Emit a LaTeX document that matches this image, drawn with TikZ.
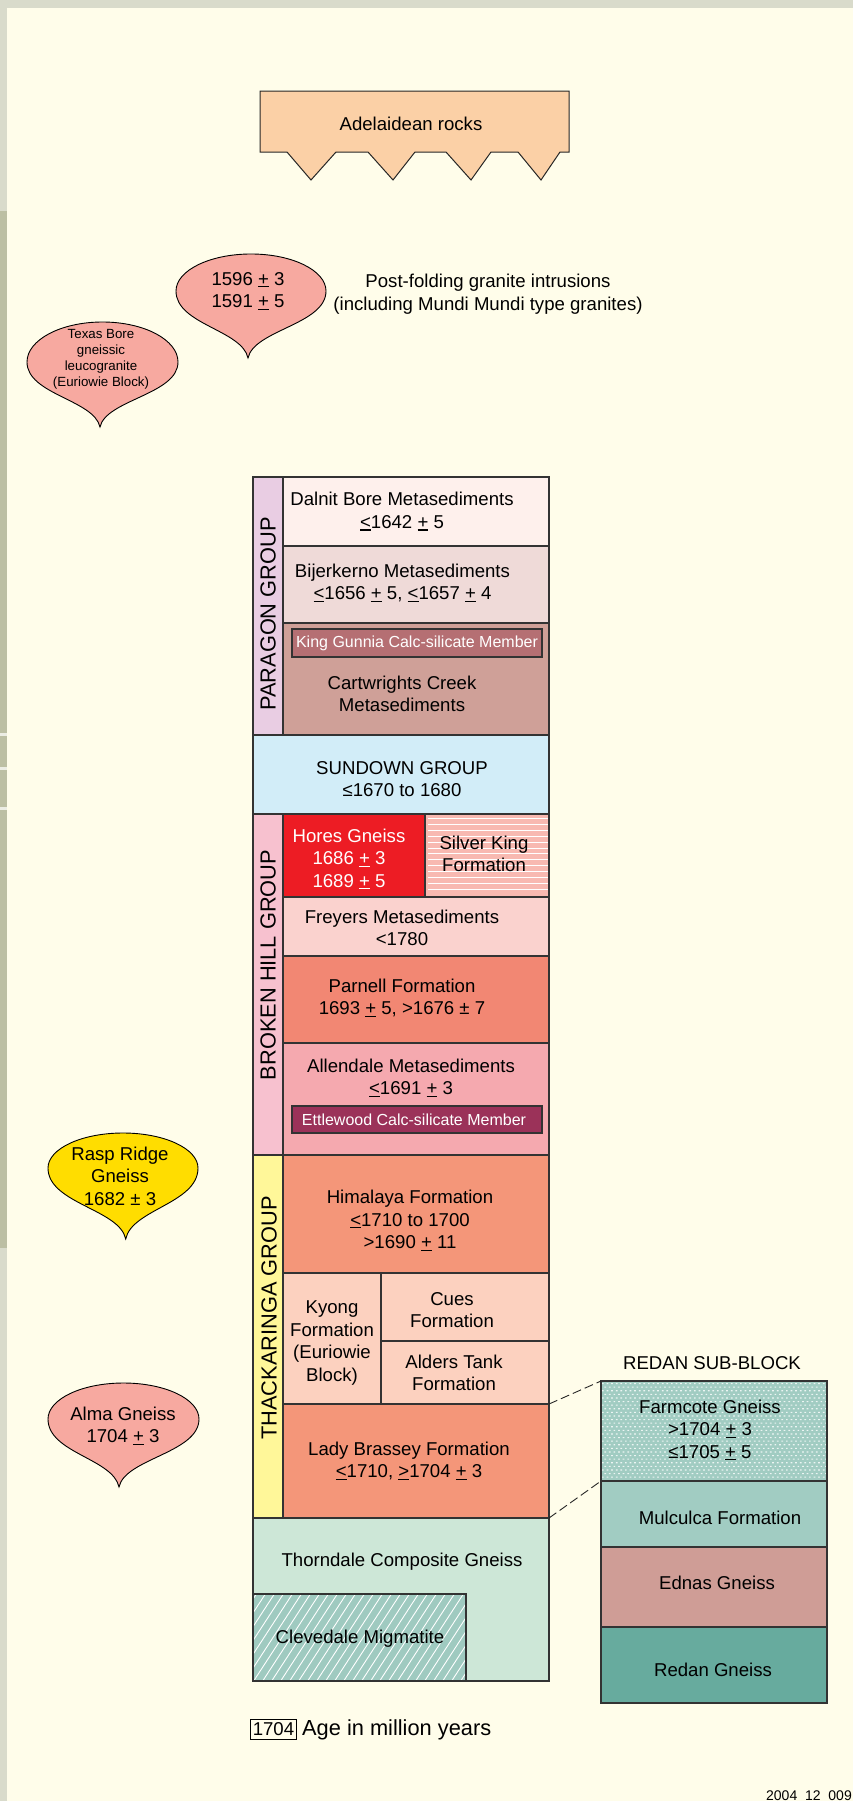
\documentclass[tikz,border=0pt]{standalone}
\usepackage{fontspec}
\setmainfont{Liberation Sans}
\definecolor{bgcol}{HTML}{FFFDEA}
\definecolor{stripL}{HTML}{D9DBCB}
\definecolor{stripD}{HTML}{BCBFA3}
\definecolor{stripW}{HTML}{ECEDE4}
\definecolor{adelc}{HTML}{FBD0A6}
\definecolor{pinkbub}{HTML}{F7A9A0}
\definecolor{yellowbub}{HTML}{FFDD00}
\definecolor{paragonc}{HTML}{E9CDE3}
\definecolor{dalnitc}{HTML}{FEF0EC}
\definecolor{bijerc}{HTML}{EFDAD8}
\definecolor{cartwc}{HTML}{CFA098}
\definecolor{kinggunc}{HTML}{B56F73}
\definecolor{sundownc}{HTML}{D2EDF8}
\definecolor{brokenc}{HTML}{F7C1CF}
\definecolor{horesc}{HTML}{ED1C24}
\definecolor{silverc}{HTML}{F8B9B1}
\definecolor{freyersc}{HTML}{FAD2CE}
\definecolor{parnellc}{HTML}{F28773}
\definecolor{allendc}{HTML}{F5A9AF}
\definecolor{ettlec}{HTML}{9B3259}
\definecolor{thackc}{HTML}{FFF799}
\definecolor{himalc}{HTML}{F49679}
\definecolor{kyongc}{HTML}{FCD1BF}
\definecolor{thornc}{HTML}{CDE7D7}
\definecolor{clevec}{HTML}{9FCAC0}
\definecolor{farmc}{HTML}{A1CCC2}
\definecolor{ednasc}{HTML}{CF9D96}
\definecolor{redanc}{HTML}{67AB9E}
\newcommand\ul[1]{\leavevmode\setbox0=\hbox{#1}\rlap{\rule[-2.2pt]{\wd0}{1.1pt}}\box0\relax}
\newcommand\PM{\ul{+}}
\newcommand\LE{\ul{<}}
\newcommand\GE{\ul{>}}
\newcommand\mybubble[7]{%
 \filldraw[fill=#7, draw=black, line width=0.9pt] ({#1-#3},#2) arc[start angle=180, end angle=360, x radius=#3, y radius=#4] .. controls ({#1+#3},{#2+0.5*(#6-#2)}) and ({#5+0.08*#3},{#6-0.42*(#6-#2)}) .. (#5,#6) .. controls ({#5-0.08*#3},{#6-0.42*(#6-#2)}) and ({#1-#3},{#2+0.5*(#6-#2)}) .. cycle;}
\begin{document}
\begin{tikzpicture}[x=1pt,y=-1pt,
  box/.style={draw=black!80, line width=1.1pt},
  txt/.style={font=\fontsize{18.6}{22.5}\selectfont, align=center, inner sep=0pt, text=black},
  wtxt/.style={font=\fontsize{16}{19}\selectfont, align=center, inner sep=0pt, text=white},
  grp/.style={font=\fontsize{21.8}{24}\selectfont, rotate=90, inner sep=0pt},
  dashline/.style={draw=black!85, line width=0.9pt, dash pattern=on 9pt off 4pt}]
\useasboundingbox (0,0) rectangle (853,1801);
% background
\fill[bgcol] (0,0) rectangle (853,1801);
\fill[stripL] (0,0) rectangle (853,8);
\fill[stripL] (0,0) rectangle (7,1801);
\fill[stripD] (0,211) rectangle (7,1248);
\fill[stripW] (0,733) rectangle (7,735.5);
\fill[stripW] (0,767) rectangle (7,769.5);
\fill[stripW] (0,807) rectangle (7,809.5);
% Adelaidean rocks
\filldraw[fill=adelc, draw=black!85, line width=1pt] (260,91) -- (569,91) -- (569,152) -- (560,152) -- (541,180) -- (518,152) -- (491,152) -- (471,180) -- (446,152) -- (415,152) -- (393,180) -- (368,152) -- (336,152) -- (311,180) -- (287,152) -- (260,152) -- cycle;
\node[txt] (adel) at (411,124) {Adelaidean rocks};
% bubbles
\mybubble{251}{291}{75}{37}{248}{358}{pinkbub}
\node[txt] (b1596) at (248,291) {1596 \PM\ 3\\1591 \PM\ 5};
\mybubble{102.5}{362}{75.5}{40}{100}{427}{pinkbub}
\node[txt, font=\fontsize{13.3}{16}\selectfont] (texas) at (101,359.5) {Texas Bore\\gneissic\\leucogranite\\(Euriowie Block)};
\node[txt] (postfold) at (488,294) {Post-folding granite intrusions\\(including Mundi Mundi type granites)};
\mybubble{123}{1168}{75}{35}{125.7}{1239}{yellowbub}
\node[txt] (rasp) at (120,1176) {Rasp Ridge\\Gneiss\\1682 ± 3};
\mybubble{123.5}{1419}{75.5}{36}{119}{1487}{pinkbub}
\node[txt] (alma) at (123,1426) {Alma Gneiss\\1704 \PM\ 3};
% Paragon group
\path[box, fill=paragonc] (253,477) rectangle (283,735);
\path[box, fill=dalnitc] (283,477) rectangle (549,546);
\path[box, fill=bijerc] (283,546) rectangle (549,623);
\path[box, fill=cartwc] (283,623) rectangle (549,735);
\path[box, fill=kinggunc] (292,629) rectangle (542,657);
\node[grp] (paragon) at (268,614) {PARAGON GROUP};
\node[txt] (dalnit) at (402,511.5) {Dalnit Bore Metasediments\\\LE1642 \PM\ 5};
\node[txt] (bijer) at (402.5,583) {Bijerkerno Metasediments\\\LE1656 \PM\ 5, \LE1657 \PM\ 4};
\node[wtxt] (kinggun) at (417,643) {King Gunnia Calc-silicate Member};
\node[txt] (cartw) at (402,694) {Cartwrights Creek\\Metasediments};
% Sundown
\path[box, fill=sundownc] (253,735) rectangle (549,814);
\node[txt] (sundown) at (402,779) {SUNDOWN GROUP\\≤1670 to 1680};
% Broken Hill group
\path[box, fill=brokenc] (253,814) rectangle (283,1155);
\path[box, fill=horesc] (283,814) rectangle (425,897);
\path[box, fill=silverc] (425,814) rectangle (549,897);
\begin{scope}
\clip (425,814) rectangle (549,897);
\foreach \k in {0,...,12} {\fill[white] (428,{818+5.9*\k}) rectangle (549,{819+5.9*\k});}
\end{scope}
\path[box] (425,814) rectangle (549,897);
\path[box, fill=freyersc] (283,897) rectangle (549,956);
\path[box, fill=parnellc] (283,956) rectangle (549,1043);
\path[box, fill=allendc] (283,1043) rectangle (549,1155);
\path[box, fill=ettlec] (292,1106) rectangle (542,1133);
\node[grp] (broken) at (268,965) {BROKEN HILL GROUP};
\node[txt, text=white] (hores) at (349,859) {Hores Gneiss\\1686 \PM\ 3\\1689 \PM\ 5};
\node[txt] (silver) at (484,854) {Silver King\\Formation};
\node[txt] (freyers) at (402,928) {Freyers Metasediments\\<1780};
\node[txt] (parnell) at (402,998) {Parnell Formation\\1693 \PM\ 5, >1676 ± 7};
\node[txt] (allend) at (411,1078) {Allendale Metasediments\\\LE1691 \PM\ 3};
\node[wtxt] (ettle) at (414,1119.5) {Ettlewood Calc-silicate Member};
% Thackaringa group
\path[box, fill=thackc] (253,1155) rectangle (283,1518);
\path[box, fill=himalc] (283,1155) rectangle (549,1273);
\path[box, fill=kyongc] (283,1273) rectangle (381,1404);
\path[box, fill=kyongc] (381,1273) rectangle (549,1341);
\path[box, fill=kyongc] (381,1341) rectangle (549,1404);
\path[box, fill=himalc] (283,1404) rectangle (549,1518);
\node[grp] (thack) at (269,1318) {THACKARINGA GROUP};
\node[txt] (himal) at (410,1220.5) {Himalaya Formation\\\LE1710 to 1700\\>1690 \PM\ 11};
\node[txt] (kyong) at (332,1343) {Kyong\\Formation\\(Euriowie\\Block)};
\node[txt] (cues) at (452,1310) {Cues\\Formation};
\node[txt] (alders) at (454,1373) {Alders Tank\\Formation};
\node[txt] (lady) at (409,1461) {Lady Brassey Formation\\\LE1710, \GE1704 \PM\ 3};
% Thorndale
\path[box, fill=thornc] (253,1518) rectangle (549,1681);
\path[box, fill=clevec] (253,1594) rectangle (466,1681);
\begin{scope}
\clip (253,1594) rectangle (466,1681);
\foreach \k in {0,...,33} {\draw[white, line width=0.9pt] ({190+9*\k},1682) -- ({248+9*\k},1593);}
\end{scope}
\path[box] (253,1594) rectangle (466,1681);
\node[txt] (thorn) at (402,1562) {Thorndale Composite Gneiss};
\node[txt] (cleve) at (360,1639) {Clevedale Migmatite};
% Redan sub-block
\node[txt] (redantitle) at (712,1363) {REDAN SUB-BLOCK};
\path[box, fill=farmc] (601,1381) rectangle (827,1481);
\begin{scope}
\clip (601,1381) rectangle (827,1481);
\fill[white!80!farmc] \foreach \j in {0,...,27} { \foreach \i in {0,...,49} { ({602+4.6*\i+mod(\j,2)*2.3},{1383+3.6*\j}) rectangle ++(1.7,1.1) } };
\end{scope}
\path[box] (601,1381) rectangle (827,1481);
\path[box, fill=farmc] (601,1481) rectangle (827,1547);
\path[box, fill=ednasc] (601,1547) rectangle (827,1627);
\path[box, fill=redanc] (601,1627) rectangle (827,1703);
\node[txt] (farm) at (710,1430) {Farmcote Gneiss\\>1704 \PM\ 3\\≤1705 \PM\ 5};
\node[txt] (mulc) at (720,1518) {Mulculca Formation};
\node[txt] (ednas) at (717,1583) {Ednas Gneiss};
\node[txt] (redan) at (713,1670) {Redan Gneiss};
% connectors
\coordinate (ladyTop) at (549,1404);
\coordinate (farmTop) at (601,1381);
\coordinate (ladyBot) at (549,1518);
\coordinate (farmBot) at (601,1481);
\draw[dashline] (ladyTop) -- (farmTop);
\draw[dashline] (ladyBot) -- (farmBot);
% legend
\node[txt, draw=black, line width=0.9pt, inner xsep=2pt, inner ysep=3pt] (legbox) at (273.5,1729.5) {1704};
\node[txt, font=\fontsize{21.8}{24}\selectfont, anchor=west] (legtxt) at (302,1730) {Age in million years};
\node[anchor=north east, inner sep=0pt, font=\fontsize{14}{14}\selectfont] (code) at (852,1791) {2004\_12\_009};
\end{tikzpicture}
\end{document}
